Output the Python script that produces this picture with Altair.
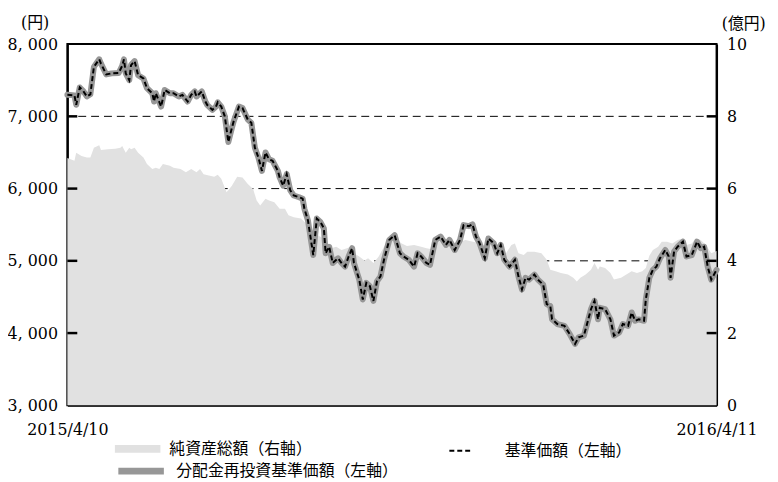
import altair as alt
import pandas as pd

# ---- data ----
START = "2015-04-10"
LBL_ASSETS = "純資産総額（右軸）"
LBL_RE = "分配金再投資基準価額（左軸）"
LBL_NAV = "基準価額（左軸）"

# days after 2015/4/10, and NAV (円); 基準価額 and 分配金再投資基準価額 coincide
line_days = [0, 4, 5, 7, 9, 11, 13, 15, 18, 19,
             22, 25, 29, 31, 32, 33, 35, 36, 38, 40,
             43, 45, 48, 49, 50, 53, 55, 58, 60, 63,
             65, 68, 70, 72, 73, 76, 78, 79, 82, 84,
             85, 87, 89, 91, 93, 94, 97, 99, 102, 104,
             106, 108, 110, 112, 114, 116, 119, 120, 122, 124,
             126, 128, 131, 133, 134, 136, 139, 141, 143, 145,
             146, 148, 150, 153, 155, 157, 159, 161, 162, 165,
             167, 169, 171, 173, 175, 177, 179, 182, 185, 188,
             190, 193, 196, 198, 200, 203, 205, 208, 211, 214,
             216, 219, 222, 224, 227, 229, 231, 233, 236, 238,
             241, 243, 245, 247, 250, 253, 255, 257, 259, 261,
             264, 266, 269, 271, 273, 274, 277, 281, 284, 287,
             289, 292, 294, 296, 298, 300, 301, 304, 307, 309,
             312, 314, 317, 319, 321, 323, 326, 327, 329, 331,
             333, 335, 338, 340, 341, 343, 345, 348, 350, 353,
             356, 358, 360, 362, 364, 367]
nav = [7300, 7290, 7160, 7400, 7350, 7275, 7305, 7685, 7790, 7730,
       7580, 7595, 7600, 7700, 7790, 7595, 7500, 7710, 7765, 7570,
       7525, 7390, 7320, 7205, 7320, 7135, 7365, 7320, 7320, 7275,
       7297, 7205, 7297, 7345, 7275, 7345, 7205, 7160, 7090, 7135,
       7195, 7135, 7000, 6645, 6840, 6930, 7135, 7115, 6955, 6910,
       6565, 6430, 6245, 6500, 6405, 6385, 6245, 6155, 6040, 6200,
       5975, 5905, 5880, 5860, 5720, 5560, 5080, 5585, 5540, 5450,
       5105, 5195, 4970, 5035, 4970, 4920, 5060, 5175, 4970, 4740,
       4465, 4695, 4650, 4445, 4715, 4785, 5015, 5290, 5355, 5105,
       5060, 5015, 4920, 5105, 5060, 4970, 4945, 5290, 5335, 5220,
       5290, 5150, 5290, 5495, 5480, 5505, 5335, 5245, 5035, 5310,
       5245, 5105, 5220, 5015, 4920, 5015, 4785, 4605, 4765, 4740,
       4810, 4740, 4670, 4400, 4375, 4190, 4125, 4100, 3985, 3850,
       3940, 3965, 4145, 4330, 4445, 4190, 4350, 4330, 4190, 3965,
       4010, 4125, 4100, 4285, 4170, 4190, 4170, 4465, 4765, 4875,
       4920, 5035, 5150, 5060, 4765, 5130, 5195, 5265, 5060, 5080,
       5265, 5175, 5195, 4920, 4740, 4875]

# days after 2015/4/10, and net assets (億円)
area_days = [0, 4, 5, 8, 11, 13, 15, 18, 19, 23,
             27, 30, 31, 33, 35, 36, 38, 40, 43, 45,
             48, 50, 52, 54, 58, 60, 64, 67, 70, 73,
             75, 77, 80, 83, 85, 87, 90, 93, 96, 99,
             102, 105, 107, 109, 112, 114, 117, 120, 123, 125,
             128, 132, 134, 137, 140, 143, 146, 149, 152, 155,
             158, 160, 162, 165, 168, 170, 173, 176, 179, 182,
             185, 189, 192, 196, 200, 203, 206, 209, 214, 219,
             225, 230, 235, 239, 245, 248, 251, 253, 255, 258,
             260, 264, 268, 271, 273, 276, 279, 283, 286, 288,
             290, 293, 296, 298, 300, 301, 304, 307, 309, 313,
             316, 319, 322, 325, 327, 329, 331, 334, 336, 339,
             342, 345, 348, 350, 353, 355, 358, 361, 364, 367]
assets = [6.85, 6.77, 6.99, 6.90, 6.86, 6.86, 7.13, 7.20, 7.07, 7.09,
          7.10, 7.13, 7.18, 6.99, 7.13, 7.09, 7.13, 6.99, 6.86, 6.68,
          6.54, 6.58, 6.54, 6.68, 6.63, 6.58, 6.54, 6.45, 6.54, 6.45,
          6.54, 6.40, 6.36, 6.33, 6.38, 6.27, 5.90, 6.08, 6.33, 6.31,
          6.13, 5.99, 5.67, 5.53, 5.72, 5.67, 5.62, 5.44, 5.44, 5.26,
          5.21, 5.17, 5.08, 4.90, 4.76, 4.67, 4.58, 4.35, 4.39, 4.30,
          4.35, 4.39, 4.21, 4.12, 4.01, 4.07, 3.94, 4.12, 4.39, 4.58,
          4.63, 4.48, 4.41, 4.44, 4.39, 4.35, 4.32, 4.55, 4.52, 4.47,
          4.58, 4.52, 4.44, 4.48, 4.39, 4.21, 4.44, 4.48, 4.21, 4.16,
          4.25, 4.25, 4.21, 4.03, 3.75, 3.71, 3.66, 3.62, 3.53, 3.43,
          3.53, 3.62, 3.75, 3.94, 3.75, 3.84, 3.80, 3.66, 3.48, 3.53,
          3.62, 3.71, 3.66, 3.71, 3.80, 4.14, 4.30, 4.39, 4.53, 4.53,
          4.48, 4.58, 4.62, 4.44, 4.48, 4.62, 4.58, 4.44, 4.21, 4.27]

left_ticks = [3000, 4000, 5000, 6000, 7000, 8000]
right_ticks = [0, 2, 4, 6, 8, 10]
grid_values = [4000, 5000, 6000, 7000]
inner_left = [4000, 5000, 6000, 7000]
inner_right = [2, 4, 6, 8]

# ---- build tables ----
base = pd.Timestamp(START)


def to_dates(days):
    return list((base + pd.to_timedelta(days, unit="D")).strftime("%Y-%m-%dT00:00:00"))


line_df = pd.DataFrame({"date": to_dates(line_days), "nav": nav,
                        "s_re": LBL_RE, "s_nav": LBL_NAV})
area_df = pd.DataFrame({"date": to_dates(area_days), "assets": assets, "s": LBL_ASSETS})
grid_df = pd.DataFrame({"v": grid_values})
lt_df = pd.DataFrame({"v": inner_left})
rt_df = pd.DataFrame({"v": inner_right})

W, H = 656, 365
NUMFONT = "DejaVu Serif, Noto Sans CJK JP"
JPFONT = "Noto Sans CJK JP"

d0 = alt.DateTime(year=2015, month=4, date=10)
d1 = alt.DateTime(year=2016, month=4, date=11)
x_enc = alt.X("date:T",
              scale=alt.Scale(domain=[d0, d1], nice=False),
              axis=alt.Axis(values=[d0, d1], format="%Y/%-m/%-d", title=None,
                            ticks=False, grid=False, labelPadding=16,
                            labelFlush=False))

yl_scale = alt.Scale(domain=[3000, 8000], nice=False, zero=False)
yr_scale = alt.Scale(domain=[0, 10], nice=False)

yl_axis = alt.Axis(orient="left", values=left_ticks,
                   labelExpr="replace(format(datum.value, ','), ',', ', ')",
                   ticks=False, grid=False, labelPadding=10,
                   title="(円)", titleAngle=0, titleX=-33, titleY=-22,
                   titleAlign="center", titleBaseline="middle")
yr_axis = alt.Axis(orient="right", values=right_ticks, format="d",
                   ticks=False, grid=False, labelPadding=10,
                   title="(億円)", titleAngle=0, titleX=27, titleY=-21,
                   titleAlign="center", titleBaseline="middle")

grid = alt.Chart(grid_df).mark_rule(color="black", strokeWidth=1, strokeDash=[8, 5]).encode(
    y=alt.Y("v:Q", scale=yl_scale, axis=None))

area = alt.Chart(area_df).mark_area(opacity=1).encode(
    x=x_enc,
    y=alt.Y("assets:Q", scale=yr_scale, axis=yr_axis),
    fill=alt.Fill("s:N", scale=alt.Scale(domain=[LBL_ASSETS], range=["#e1e1e1"]),
                  legend=alt.Legend(orient="none", legendX=48, legendY=386, title=None,
                                    symbolType="M-1,-0.17H1V0.17H-1Z", symbolSize=2116,
                                    symbolStrokeWidth=0, labelOffset=9, padding=0,
                                    labelLimit=400)))

thick = alt.Chart(line_df).mark_line(strokeWidth=6, strokeJoin="round", strokeCap="round").encode(
    x=x_enc,
    y=alt.Y("nav:Q", scale=yl_scale, axis=yl_axis),
    stroke=alt.Stroke("s_re:N", scale=alt.Scale(domain=[LBL_RE], range=["#979797"]),
                      legend=alt.Legend(orient="none", legendX=48, legendY=405, title=None,
                                        symbolType="stroke", symbolSize=2116,
                                        symbolStrokeWidth=7, labelOffset=9, padding=0,
                                        labelLimit=400)))

dashed = alt.Chart(line_df).mark_line(color="black", strokeWidth=2).encode(
    x=x_enc,
    y=alt.Y("nav:Q", scale=yl_scale, axis=None),
    strokeDash=alt.StrokeDash("s_nav:N", scale=alt.Scale(domain=[LBL_NAV], range=[[5, 3]]),
                              legend=alt.Legend(orient="none", legendX=385, legendY=398,
                                                title=None, symbolType="stroke",
                                                symbolSize=576, symbolStrokeWidth=2,
                                                symbolStrokeColor="black", labelOffset=31,
                                                padding=0, labelLimit=400)))

lt = alt.Chart(lt_df).mark_rule(color="black", strokeWidth=2.5).encode(
    y=alt.Y("v:Q", scale=yl_scale, axis=None), x=alt.value(0), x2=alt.value(10))
rt = alt.Chart(rt_df).mark_rule(color="black", strokeWidth=2.5).encode(
    y=alt.Y("v:Q", scale=yr_scale, axis=None), x=alt.value(W - 10), x2=alt.value(W))

chart = alt.layer(grid, area, thick, dashed, lt, rt).resolve_scale(
    y="independent"
).properties(
    width=W, height=H,
    autosize=alt.AutoSizeParams(type="none"),
    padding={"left": 60, "top": 34, "right": 54, "bottom": 75},
).configure_view(
    stroke="black", strokeWidth=2
).configure_axis(
    labelFont=NUMFONT, labelFontSize=16, labelColor="black",
    titleFont=NUMFONT, titleFontSize=16, titleFontWeight="normal", titleColor="black",
    domain=True, domainColor="black", domainWidth=2, zindex=1
).configure_legend(
    labelFont=JPFONT, labelFontSize=16, labelColor="black"
)

chart.save("out.html", embed_options={"renderer": "svg", "actions": False})
